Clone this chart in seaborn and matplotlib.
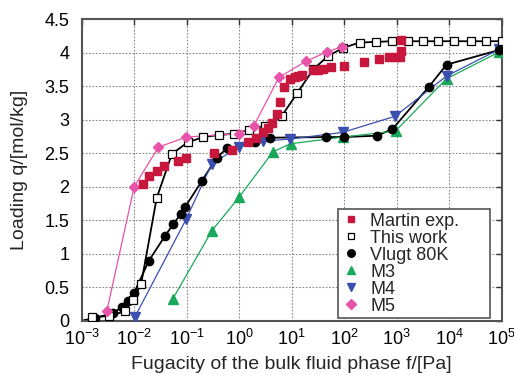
import numpy as np
import pandas as pd
import matplotlib
matplotlib.use("Agg")
import matplotlib.pyplot as plt
import seaborn as sns

# ---------------- data ----------------
martin_f = [0.0145, 0.0194, 0.0268, 0.0375, 0.0675, 0.098, 0.336, 0.73, 1.45, 2.06, 2.8, 3.58,
            4.27, 5.17, 6.07, 7.24, 9.3, 11.6, 13.0, 15.7, 25.7, 31.8, 39.7, 55.8, 99.0, 240,
            454, 719, 987, 1140, 1200, 1200]
martin_q = [2.04, 2.16, 2.23, 2.31, 2.38, 2.43, 2.50, 2.55, 2.66, 2.73, 2.82, 2.88,
            2.95, 3.08, 3.27, 3.49, 3.61, 3.64, 3.65, 3.67, 3.74, 3.74, 3.75, 3.78, 3.80, 3.86,
            3.91, 3.93, 3.93, 3.94, 4.02, 4.19]

this_f = [0.00155, 0.00336, 0.0067, 0.0094, 0.0135, 0.0268, 0.0524, 0.104, 0.207, 0.406, 0.8,
          1.56, 3.07, 6.4, 12.6, 25.7, 49.4, 94.5, 197, 395, 828, 1620, 3180, 6260, 12400,
          25500, 49500, 100000]
this_q = [0.05, 0.07, 0.14, 0.31, 0.54, 1.83, 2.49, 2.66, 2.74, 2.77, 2.79,
          2.85, 2.91, 3.05, 3.39, 3.75, 3.95, 4.07, 4.15, 4.16, 4.17, 4.17, 4.17, 4.17, 4.17,
          4.17, 4.17, 4.17]

vlugt_f = [0.0010, 0.00179, 0.0039, 0.0058, 0.0077, 0.0099, 0.0189, 0.039, 0.0556, 0.0766, 0.094,
           0.193, 0.371, 0.577, 2.0, 3.86, 45.4, 99, 426, 832, 4100, 8900, 90000]
vlugt_q = [0.0, 0.04, 0.11, 0.20, 0.30, 0.41, 0.89, 1.27, 1.44, 1.59, 1.70,
           2.08, 2.43, 2.57, 2.66, 2.73, 2.74, 2.74, 2.76, 2.86, 3.49, 3.82, 4.04]
vlugt_marker = [False] + [True] * 22

m3_f = [0.054, 0.3, 0.99, 4.4, 9.5, 96, 950, 8900, 90000]
m3_q = [0.32, 1.34, 1.84, 2.52, 2.64, 2.74, 2.83, 3.61, 4.01]

m4_f = [0.0102, 0.097, 0.3, 0.97, 2.9, 9.3, 94, 930, 8900, 90000]
m4_q = [0.05, 1.51, 2.34, 2.59, 2.68, 2.71, 2.81, 3.05, 3.65, 4.05]

m5_f = [0.003, 0.01, 0.029, 0.098, 0.97, 1.91, 5.7, 18.6, 46.5, 92.7]
m5_q = [0.14, 2.00, 2.59, 2.74, 2.79, 2.91, 3.63, 3.87, 4.01, 4.09]

labels = ["Martin exp.", "This work", "Vlugt 80K", "M3", "M4", "M5"]
yticks = [0, 0.5, 1, 1.5, 2, 2.5, 3, 3.5, 4, 4.5]
ytick_labels = ["0", "0.5", "1", "1.5", "2", "2.5", "3", "3.5", "4", "4.5"]
xticks = [1e-3, 1e-2, 1e-1, 1e0, 1e1, 1e2, 1e3, 1e4, 1e5]
xtick_labels = [r"$10^{-3}$", r"$10^{-2}$", r"$10^{-1}$", r"$10^{0}$", r"$10^{1}$",
                r"$10^{2}$", r"$10^{3}$", r"$10^{4}$", r"$10^{5}$"]

# ---------------- styling ----------------
sns.set_theme(style="white")
plt.rcParams["font.family"] = ["Liberation Sans", "DejaVu Sans"]
plt.rcParams["mathtext.fontset"] = "custom"
plt.rcParams["mathtext.rm"] = "Liberation Sans"
plt.rcParams["mathtext.it"] = "Liberation Sans:italic"

RED = "#c8173c"
GREEN = "#1aa85a"
BLUE = "#3a4fb0"
PINK = "#e653a8"

fig = plt.figure(figsize=(5.14, 3.75), dpi=100)
ax = fig.add_axes([0.159, 0.145, 0.817, 0.804])

# lines
sns.lineplot(x=this_f, y=this_q, ax=ax, color="black", lw=1.3, sort=False, estimator=None)
sns.lineplot(x=vlugt_f, y=vlugt_q, ax=ax, color="black", lw=1.3, sort=False, estimator=None)
sns.lineplot(x=m3_f, y=m3_q, ax=ax, color=GREEN, lw=0.9, sort=False, estimator=None)
sns.lineplot(x=m4_f, y=m4_q, ax=ax, color=BLUE, lw=0.9, sort=False, estimator=None)
sns.lineplot(x=m5_f, y=m5_q, ax=ax, color=PINK, lw=0.9, sort=False, estimator=None)

# markers
vf = [f for f, m in zip(vlugt_f, vlugt_marker) if m]
vq = [q for q, m in zip(vlugt_q, vlugt_marker) if m]
ax.plot(m3_f, m3_q, ls="none", marker="^", ms=6.5, color=GREEN, mec=GREEN, label=labels[3], zorder=4)
ax.plot(m4_f, m4_q, ls="none", marker="v", ms=6.5, color=BLUE, mec=BLUE, label=labels[4], zorder=4)
ax.plot(vf, vq, ls="none", marker="o", ms=6, color="black", label=labels[2], zorder=5)
ax.plot(this_f, this_q, ls="none", marker="s", ms=5.2, mfc="white", mec="black", mew=0.9,
        label=labels[1], zorder=5)
ax.plot(m5_f, m5_q, ls="none", marker="D", ms=5.2, color=PINK, mec=PINK, label=labels[5], zorder=6)
ax.plot(martin_f, martin_q, ls="none", marker="s", ms=5.4, color=RED, mec=RED, label=labels[0], zorder=7)

ax.set_xscale("log")
ax.set_xlim(1e-3, 1e5)
ax.set_ylim(0, 4.5)
ax.set_xticks(xticks)
ax.set_xticklabels(xtick_labels)
ax.xaxis.set_minor_locator(matplotlib.ticker.NullLocator())
ax.set_yticks(yticks)
ax.set_yticklabels(ytick_labels)
ax.tick_params(axis="both", direction="in", length=4, width=1, labelsize=13, colors="#333333",
               top=True, right=True)
ax.tick_params(axis="y", pad=9)
ax.tick_params(axis="x", pad=6)
for lab in ax.get_xticklabels() + ax.get_yticklabels():
    lab.set_color("black")
ax.grid(True, ls=(0, (1.5, 1.5)), color="#888888", lw=0.8)
for s in ax.spines.values():
    s.set_color("#555555")
    s.set_linewidth(1.5)

ax.set_xlabel("Fugacity of the bulk fluid phase f/[Pa]", fontsize=14, labelpad=5)
ax.set_ylabel("Loading q/[mol/kg]", fontsize=14, labelpad=12)

handles, labs = ax.get_legend_handles_labels()
order = [labs.index(l) for l in labels]
leg = ax.legend([handles[i] for i in order], [labs[i] for i in order], loc="lower left",
                bbox_to_anchor=(0.610, 0.008, 0.362, 0.3), mode="expand", borderaxespad=0,
                fontsize=13, frameon=True, fancybox=False, handlelength=1.0, handletextpad=0.6,
                borderpad=0.2, labelspacing=0.0, markerscale=0.9)
leg.get_frame().set_edgecolor("#555555")
leg.get_frame().set_linewidth(1.2)
leg.get_frame().set_alpha(1)

fig.savefig("out.png", dpi=100)
